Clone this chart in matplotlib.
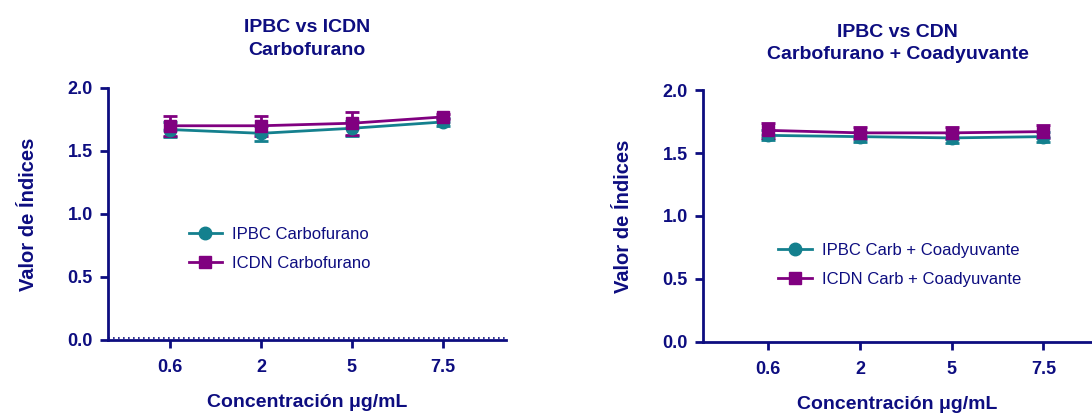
import matplotlib
matplotlib.use('Agg')
import matplotlib.pyplot as plt
from matplotlib.lines import Line2D

plt.rcParams['font.family'] = ['Liberation Sans', 'DejaVu Sans']

NAVY = '#0d0d80'
TEAL = '#14808e'
PURPLE = '#800080'

conc_labels = ['0.6', '2', '5', '7.5']

# panel 1: Carbofurano
ipbc_carb = [1.67, 1.64, 1.68, 1.73]
ipbc_carb_err = [0.06, 0.06, 0.06, 0.03]
icdn_carb = [1.70, 1.70, 1.72, 1.77]
icdn_carb_err = [0.08, 0.08, 0.09, 0.02]

# panel 2: Carbofurano + Coadyuvante
ipbc_coad = [1.64, 1.63, 1.62, 1.63]
ipbc_coad_err = [0.04, 0.04, 0.04, 0.04]
icdn_coad = [1.68, 1.66, 1.66, 1.67]
icdn_coad_err = [0.06, 0.05, 0.05, 0.05]

panels = [
    {'title': 'IPBC vs ICDN\nCarbofurano',
     'series': [('IPBC Carbofurano', ipbc_carb, ipbc_carb_err, TEAL, 'o'),
                ('ICDN Carbofurano', icdn_carb, icdn_carb_err, PURPLE, 's')],
     'rect': [0.099, 0.177, 0.364, 0.610], 'xlim': (-0.68, 3.69),
     'leg': (0.159, 0.487), 'dotted': True, 'tpad': 24},
    {'title': 'IPBC vs CDN\nCarbofurano + Coadyuvante',
     'series': [('IPBC Carb + Coadyuvante', ipbc_coad, ipbc_coad_err, TEAL, 'o'),
                ('ICDN Carb + Coadyuvante', icdn_coad, icdn_coad_err, PURPLE, 's')],
     'rect': [0.644, 0.172, 0.356, 0.610], 'xlim': (-0.71, 3.53),
     'leg': (0.699, 0.448), 'dotted': False, 'tpad': 22},
]

fig = plt.figure(figsize=(10.92, 4.13), dpi=100)

for p in panels:
    ax = fig.add_axes(p['rect'])
    x = list(range(len(conc_labels)))
    handles = []
    for label, vals, err, color, marker in p['series']:
        ms = 9 if marker == 'o' else 8
        ax.errorbar(x, vals, yerr=err, color=color, marker=marker,
                    markersize=ms, linewidth=2, elinewidth=2, capsize=5,
                    capthick=2, clip_on=False)
        handles.append(Line2D([], [], color=color, marker=marker,
                              markersize=ms, linewidth=2, label=label))
    ax.set_xlim(*p['xlim'])
    ax.set_ylim(0, 2.0)
    ax.set_yticks([0.0, 0.5, 1.0, 1.5, 2.0])
    ax.set_yticklabels(['0.0', '0.5', '1.0', '1.5', '2.0'])
    ax.set_xticks(x)
    ax.set_xticklabels(conc_labels)
    for s in ['top', 'right']:
        ax.spines[s].set_visible(False)
    for s in ['left', 'bottom']:
        ax.spines[s].set_color(NAVY)
        ax.spines[s].set_linewidth(2)
    ax.tick_params(colors=NAVY, width=2, length=6, labelsize=13, pad=5)
    ax.tick_params(axis='x', pad=8)
    for t in ax.get_xticklabels() + ax.get_yticklabels():
        t.set_fontweight('bold')
    if p['dotted']:
        ax.axhline(0.012, color=NAVY, linestyle=(0, (1, 2)), linewidth=1.2,
                   clip_on=False)
    ax.set_xlabel('Concentración μg/mL', fontsize=14, fontweight='bold',
                  color=NAVY, labelpad=13)
    ax.set_ylabel('Valor de Índices', fontsize=14.5, fontweight='bold',
                  color=NAVY, labelpad=21)
    ax.set_title(p['title'], fontsize=14, fontweight='bold', color=NAVY,
                 pad=p['tpad'], linespacing=1.45)
    fig.legend(handles=handles, loc='upper left', bbox_to_anchor=p['leg'],
               frameon=False, fontsize=12, handlelength=2.0,
               handletextpad=0.6, labelspacing=0.85, labelcolor=NAVY)

fig.savefig('out.png', dpi=100)
